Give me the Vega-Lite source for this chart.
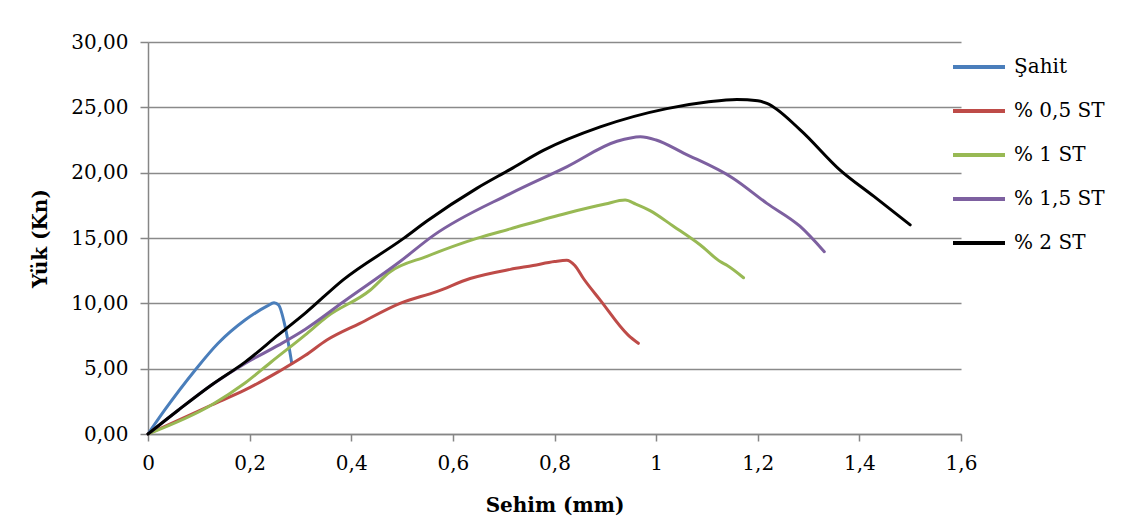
{
  "$schema": "https://vega.github.io/schema/vega-lite/v6.json",
  "width": 813,
  "height": 392,
  "autosize": {"type": "none"},
  "padding": {"left": 148, "top": 42, "right": 160, "bottom": 89},
  "background": "white",
  "config": {
    "locale": {"number": {"decimal": ",", "thousands": ".", "grouping": [3], "currency": ["", ""]}},
    "font": "DejaVu Serif",
    "view": {"stroke": null},
    "axis": {
      "labelFont": "DejaVu Serif",
      "titleFont": "DejaVu Serif",
      "labelFontSize": 20,
      "titleFontSize": 20,
      "labelColor": "#000000",
      "titleColor": "#000000",
      "titleFontWeight": "bold",
      "domainColor": "#868686",
      "domainWidth": 1.5,
      "tickColor": "#868686",
      "tickWidth": 1.5,
      "gridColor": "#8a8a8a",
      "gridWidth": 1.5
    },
    "legend": {
      "labelFont": "DejaVu Serif",
      "labelFontSize": 20,
      "labelColor": "#000000"
    }
  },
  "data": {
    "values": [
      {"s": "Şahit", "o": 0, "x": 0, "y": 0},
      {"s": "Şahit", "o": 1, "x": 0.033, "y": 1.84},
      {"s": "Şahit", "o": 2, "x": 0.093, "y": 4.9},
      {"s": "Şahit", "o": 3, "x": 0.138, "y": 6.94},
      {"s": "Şahit", "o": 4, "x": 0.191, "y": 8.72},
      {"s": "Şahit", "o": 5, "x": 0.235, "y": 9.8},
      {"s": "Şahit", "o": 6, "x": 0.248, "y": 10.05},
      {"s": "Şahit", "o": 7, "x": 0.257, "y": 9.87},
      {"s": "Şahit", "o": 8, "x": 0.27, "y": 8.2},
      {"s": "Şahit", "o": 9, "x": 0.283, "y": 5.4},

      {"s": "% 0,5 ST", "o": 0, "x": 0, "y": 0},
      {"s": "% 0,5 ST", "o": 1, "x": 0.125, "y": 2.22},
      {"s": "% 0,5 ST", "o": 2, "x": 0.191, "y": 3.37},
      {"s": "% 0,5 ST", "o": 3, "x": 0.257, "y": 4.77},
      {"s": "% 0,5 ST", "o": 4, "x": 0.309, "y": 6.0},
      {"s": "% 0,5 ST", "o": 5, "x": 0.352, "y": 7.19},
      {"s": "% 0,5 ST", "o": 6, "x": 0.417, "y": 8.47},
      {"s": "% 0,5 ST", "o": 7, "x": 0.496, "y": 10.0},
      {"s": "% 0,5 ST", "o": 8, "x": 0.568, "y": 10.9},
      {"s": "% 0,5 ST", "o": 9, "x": 0.634, "y": 11.9},
      {"s": "% 0,5 ST", "o": 10, "x": 0.713, "y": 12.6},
      {"s": "% 0,5 ST", "o": 11, "x": 0.758, "y": 12.9},
      {"s": "% 0,5 ST", "o": 12, "x": 0.8, "y": 13.2},
      {"s": "% 0,5 ST", "o": 13, "x": 0.824, "y": 13.3},
      {"s": "% 0,5 ST", "o": 14, "x": 0.84, "y": 12.9},
      {"s": "% 0,5 ST", "o": 15, "x": 0.857, "y": 11.9},
      {"s": "% 0,5 ST", "o": 16, "x": 0.89, "y": 10.25},
      {"s": "% 0,5 ST", "o": 17, "x": 0.945, "y": 7.57},
      {"s": "% 0,5 ST", "o": 18, "x": 0.965, "y": 6.94},

      {"s": "% 1 ST", "o": 0, "x": 0, "y": 0},
      {"s": "% 1 ST", "o": 1, "x": 0.125, "y": 2.22},
      {"s": "% 1 ST", "o": 2, "x": 0.191, "y": 3.9},
      {"s": "% 1 ST", "o": 3, "x": 0.243, "y": 5.53},
      {"s": "% 1 ST", "o": 4, "x": 0.309, "y": 7.57},
      {"s": "% 1 ST", "o": 5, "x": 0.352, "y": 8.97},
      {"s": "% 1 ST", "o": 6, "x": 0.437, "y": 11.0},
      {"s": "% 1 ST", "o": 7, "x": 0.476, "y": 12.4},
      {"s": "% 1 ST", "o": 8, "x": 0.549, "y": 13.6},
      {"s": "% 1 ST", "o": 9, "x": 0.647, "y": 14.97},
      {"s": "% 1 ST", "o": 10, "x": 0.713, "y": 15.7},
      {"s": "% 1 ST", "o": 11, "x": 0.824, "y": 16.9},
      {"s": "% 1 ST", "o": 12, "x": 0.9, "y": 17.6},
      {"s": "% 1 ST", "o": 13, "x": 0.939, "y": 17.9},
      {"s": "% 1 ST", "o": 14, "x": 0.96, "y": 17.6},
      {"s": "% 1 ST", "o": 15, "x": 0.988, "y": 17.1},
      {"s": "% 1 ST", "o": 16, "x": 1.034, "y": 15.9},
      {"s": "% 1 ST", "o": 17, "x": 1.087, "y": 14.46},
      {"s": "% 1 ST", "o": 18, "x": 1.126, "y": 13.2},
      {"s": "% 1 ST", "o": 19, "x": 1.14, "y": 12.9},
      {"s": "% 1 ST", "o": 20, "x": 1.172, "y": 11.96},

      {"s": "% 1,5 ST", "o": 0, "x": 0, "y": 0},
      {"s": "% 1,5 ST", "o": 1, "x": 0.06, "y": 1.84},
      {"s": "% 1,5 ST", "o": 2, "x": 0.125, "y": 3.75},
      {"s": "% 1,5 ST", "o": 3, "x": 0.191, "y": 5.4},
      {"s": "% 1,5 ST", "o": 4, "x": 0.257, "y": 6.8},
      {"s": "% 1,5 ST", "o": 5, "x": 0.309, "y": 8.0},
      {"s": "% 1,5 ST", "o": 6, "x": 0.384, "y": 10.1},
      {"s": "% 1,5 ST", "o": 7, "x": 0.496, "y": 13.2},
      {"s": "% 1,5 ST", "o": 8, "x": 0.562, "y": 15.2},
      {"s": "% 1,5 ST", "o": 9, "x": 0.713, "y": 18.4},
      {"s": "% 1,5 ST", "o": 10, "x": 0.824, "y": 20.45},
      {"s": "% 1,5 ST", "o": 11, "x": 0.923, "y": 22.4},
      {"s": "% 1,5 ST", "o": 12, "x": 0.969, "y": 22.75},
      {"s": "% 1,5 ST", "o": 13, "x": 1.0, "y": 22.5},
      {"s": "% 1,5 ST", "o": 14, "x": 1.054, "y": 21.5},
      {"s": "% 1,5 ST", "o": 15, "x": 1.152, "y": 19.56},
      {"s": "% 1,5 ST", "o": 16, "x": 1.218, "y": 17.65},
      {"s": "% 1,5 ST", "o": 17, "x": 1.283, "y": 15.9},
      {"s": "% 1,5 ST", "o": 18, "x": 1.331, "y": 13.95},

      {"s": "% 2 ST", "o": 0, "x": 0, "y": 0},
      {"s": "% 2 ST", "o": 1, "x": 0.06, "y": 1.84},
      {"s": "% 2 ST", "o": 2, "x": 0.125, "y": 3.75},
      {"s": "% 2 ST", "o": 3, "x": 0.191, "y": 5.5},
      {"s": "% 2 ST", "o": 4, "x": 0.257, "y": 7.6},
      {"s": "% 2 ST", "o": 5, "x": 0.309, "y": 9.23},
      {"s": "% 2 ST", "o": 6, "x": 0.384, "y": 11.8},
      {"s": "% 2 ST", "o": 7, "x": 0.503, "y": 14.97},
      {"s": "% 2 ST", "o": 8, "x": 0.549, "y": 16.3},
      {"s": "% 2 ST", "o": 9, "x": 0.647, "y": 18.8},
      {"s": "% 2 ST", "o": 10, "x": 0.713, "y": 20.25},
      {"s": "% 2 ST", "o": 11, "x": 0.778, "y": 21.7},
      {"s": "% 2 ST", "o": 12, "x": 0.89, "y": 23.5},
      {"s": "% 2 ST", "o": 13, "x": 1.021, "y": 24.9},
      {"s": "% 2 ST", "o": 14, "x": 1.1, "y": 25.4},
      {"s": "% 2 ST", "o": 15, "x": 1.159, "y": 25.6},
      {"s": "% 2 ST", "o": 16, "x": 1.2, "y": 25.5},
      {"s": "% 2 ST", "o": 17, "x": 1.218, "y": 25.3},
      {"s": "% 2 ST", "o": 18, "x": 1.283, "y": 23.3},
      {"s": "% 2 ST", "o": 19, "x": 1.362, "y": 20.2},
      {"s": "% 2 ST", "o": 20, "x": 1.428, "y": 18.2},
      {"s": "% 2 ST", "o": 21, "x": 1.5, "y": 16.0}
    ]
  },
  "mark": {"type": "line", "strokeWidth": 3, "strokeJoin": "round", "strokeCap": "round", "interpolate": "monotone"},
  "encoding": {
    "x": {
      "field": "x", "type": "quantitative",
      "scale": {"domain": [0, 1.6], "nice": false, "zero": false},
      "axis": {
        "title": "Sehim (mm)", "values": [0, 0.2, 0.4, 0.6, 0.8, 1, 1.2, 1.4, 1.6],
        "format": "~g", "grid": false, "tickSize": 7, "labelPadding": 12,
        "titlePadding": 22, "labelFlush": false
      }
    },
    "y": {
      "field": "y", "type": "quantitative",
      "scale": {"domain": [0, 30], "nice": false},
      "axis": {
        "title": "Yük (Kn)", "values": [0, 5, 10, 15, 20, 25, 30],
        "format": ".2f", "grid": true, "tickSize": 8, "labelPadding": 12,
        "titlePadding": 20
      }
    },
    "color": {
      "field": "s", "type": "nominal",
      "scale": {
        "domain": ["Şahit", "% 0,5 ST", "% 1 ST", "% 1,5 ST", "% 2 ST"],
        "range": ["#4A7EBB", "#BE4B48", "#98B954", "#7D60A0", "#000000"]
      },
      "legend": {
        "title": null, "orient": "none", "legendX": 803, "legendY": -3,
        "symbolType": "stroke", "symbolSize": 2704, "symbolStrokeWidth": 4,
        "labelOffset": 7, "rowPadding": 6
      }
    },
    "order": {"field": "o", "type": "quantitative"}
  }
}
